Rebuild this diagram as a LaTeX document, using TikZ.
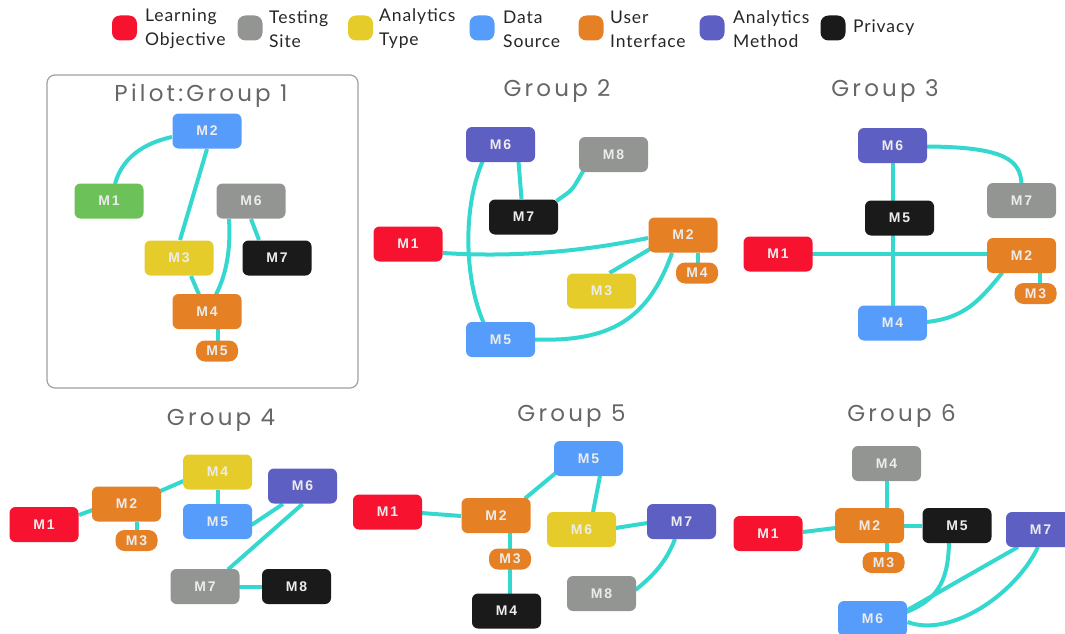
\documentclass[tikz,border=0pt]{standalone}
\usepackage{fontspec}
\setmainfont{Lato}
\newfontfamily\nodefont[LetterSpace=14]{Liberation Sans}
\newfontfamily\titlefont[LetterSpace=14]{Poppins}
\newfontfamily\legendfont[LetterSpace=5]{Lato}
\usetikzlibrary{backgrounds}
\definecolor{cred}{HTML}{F7132F}
\definecolor{cgray}{HTML}{939592}
\definecolor{cyellow}{HTML}{E6CC2A}
\definecolor{cblue}{HTML}{559CFB}
\definecolor{corange}{HTML}{E58024}
\definecolor{cpurple}{HTML}{5E5FC2}
\definecolor{cblack}{HTML}{1A1A1A}
\definecolor{cgreen}{HTML}{6CC158}
\definecolor{cteal}{HTML}{35D8CF}
\definecolor{ctext}{HTML}{ECECEC}
\definecolor{ctitle}{HTML}{666666}
\definecolor{cframe}{HTML}{A0A0A0}
\tikzset{
  box/.style={rectangle, rounded corners=6pt, minimum width=69pt, minimum height=35pt, inner sep=0pt, text=ctext, font=\nodefont\bfseries\fontsize{14}{14}\selectfont},
  sbox/.style={rectangle, rounded corners=9pt, minimum width=42pt, minimum height=21pt, inner sep=0pt, text=ctext, fill=corange, font=\nodefont\bfseries\fontsize{14}{14}\selectfont},
  link/.style={draw=cteal, line width=4pt},
  gtitle/.style={anchor=base, text=ctitle, font=\titlefont\fontsize{23}{23}\selectfont, inner sep=0pt},
  swatch/.style={rectangle, rounded corners=8pt, minimum width=25pt, minimum height=25pt, inner sep=0pt},
  legtext/.style={anchor=west, align=left, text=black!85, font=\legendfont\fontsize{17.5}{24}\selectfont, inner sep=0pt}
}
\begin{document}
\begin{tikzpicture}[x=1pt,y=-1pt]
\useasboundingbox (0,0) rectangle (1065,634);
\clip (0,0) rectangle (1065,634);
% legend
\node[swatch, fill=cred] (l1) at (124.5,28) {};
\node[legtext] (t1) at (145,29) {Learning\\Objective};
\node[swatch, fill=cgray] (l2) at (250,28) {};
\node[legtext] (t2) at (269,29) {Testing\\Site};
\node[swatch, fill=cyellow] (l3) at (360.5,28) {};
\node[legtext] (t3) at (379,29) {Analytics\\Type};
\node[swatch, fill=cblue] (l4) at (482,28) {};
\node[legtext] (t4) at (503,29) {Data\\Source};
\node[swatch, fill=corange] (l5) at (591,28) {};
\node[legtext] (t5) at (610,29) {User\\Interface};
\node[swatch, fill=cpurple] (l6) at (712,28) {};
\node[legtext] (t6) at (733,29) {Analytics\\Method};
\node[swatch, fill=cblack] (l7) at (833,28) {};
\node[legtext] (t7) at (853,28) {Privacy};

% titles
\node[gtitle] (h1) at (201,101.5) {Pilot:Group 1};
\node[gtitle] (h2) at (557,96.5) {Group 2};
\node[gtitle] (h3) at (885,96) {Group 3};
\node[gtitle] (h4) at (221,425) {Group 4};
\node[gtitle] (h5) at (571.5,421) {Group 5};
\node[gtitle] (h6) at (901.5,421) {Group 6};

% Group 1
\node[box, fill=cblue] (g1m2) at (207,131) {M2};
\node[box, fill=cgreen] (g1m1) at (109,201) {M1};
\node[box, fill=cgray] (g1m6) at (251,201) {M6};
\node[box, fill=cyellow] (g1m3) at (179,258) {M3};
\node[box, fill=cblack] (g1m7) at (277,258) {M7};
\node[box, fill=corange] (g1m4) at (207,311.5) {M4};
\node[sbox] (g1m5) at (217,351) {M5};

% Group 2
\node[box, fill=cpurple] (g2m6) at (500.5,144.5) {M6};
\node[box, fill=cgray] (g2m8) at (613.5,154.5) {M8};
\node[box, fill=cblack] (g2m7) at (523.5,217) {M7};
\node[box, fill=cred] (g2m1) at (408,244) {M1};
\node[box, fill=corange] (g2m2) at (683,235) {M2};
\node[sbox] (g2m4) at (697,273) {M4};
\node[box, fill=cyellow] (g2m3) at (601.5,291) {M3};
\node[box, fill=cblue] (g2m5) at (500.5,339.5) {M5};

% Group 3
\node[box, fill=cpurple] (g3m6) at (892.5,145.5) {M6};
\node[box, fill=cgray] (g3m7) at (1021.5,200.5) {M7};
\node[box, fill=cblack] (g3m5) at (899.5,218) {M5};
\node[box, fill=cred] (g3m1) at (778,254) {M1};
\node[box, fill=corange] (g3m2) at (1021.5,255.5) {M2};
\node[sbox] (g3m3) at (1035.5,293.5) {M3};
\node[box, fill=cblue] (g3m4) at (892.5,323) {M4};

% Group 4
\node[box, fill=cyellow] (g4m4) at (217.5,472) {M4};
\node[box, fill=cpurple] (g4m6) at (302.5,486) {M6};
\node[box, fill=corange] (g4m2) at (126.5,504) {M2};
\node[box, fill=cblue] (g4m5) at (217.5,521.5) {M5};
\node[box, fill=cred] (g4m1) at (44,524.5) {M1};
\node[sbox] (g4m3) at (136.5,540.5) {M3};
\node[box, fill=cgray] (g4m7) at (205,586.5) {M7};
\node[box, fill=cblack] (g4m8) at (296.5,586.5) {M8};

% Group 5
\node[box, fill=cblue] (g5m5) at (588.5,458.5) {M5};
\node[box, fill=cred] (g5m1) at (387.5,512) {M1};
\node[box, fill=corange] (g5m2) at (496,515.5) {M2};
\node[box, fill=cyellow] (g5m6) at (581.5,529.5) {M6};
\node[box, fill=cpurple] (g5m7) at (681.5,521.5) {M7};
\node[sbox] (g5m3) at (510,559) {M3};
\node[box, fill=cgray] (g5m8) at (601.5,593.5) {M8};
\node[box, fill=cblack] (g5m4) at (506.5,611) {M4};

% Group 6
\node[box, fill=cgray] (g6m4) at (886.5,463.5) {M4};
\node[box, fill=cred] (g6m1) at (768,533.5) {M1};
\node[box, fill=corange] (g6m2) at (869.5,525.5) {M2};
\node[box, fill=cblack] (g6m5) at (957,525.5) {M5};
\node[box, fill=cpurple] (g6m7) at (1040.5,529.5) {M7};
\node[sbox] (g6m3) at (883.5,562.5) {M3};
\node[box, fill=cblue] (g6m6) at (872.5,618.5) {M6};

\begin{pgfonlayer}{background}
\draw[cframe, line width=1.2pt, rounded corners=8pt] (47,75) rectangle (358,388);
% Group 1 links
\draw[link] ([shift={(-35,6)}]g1m2.center) .. controls (135,145) and (120,165) .. ([shift={(6,-17)}]g1m1.center);
\draw[link] ([shift={(0,18)}]g1m2.center) -- ([shift={(1,-18)}]g1m3.center);
\draw[link] ([shift={(12,18)}]g1m3.center) -- ([shift={(-8,-17)}]g1m4.center);
\draw[link] ([shift={(-22,18)}]g1m6.center) .. controls (231,250) and (226,275) .. ([shift={(9,-17)}]g1m4.center);
\draw[link] ([shift={(0,18)}]g1m6.center) -- ([shift={(-18,-18)}]g1m7.center);
\draw[link] ([shift={(11,17)}]g1m4.center) -- ([shift={(1,-10)}]g1m5.center);
% Group 2 links
\draw[link] ([shift={(18,17)}]g2m6.center) -- ([shift={(-2,-18)}]g2m7.center);
\draw[link] ([shift={(-18,17)}]g2m6.center) .. controls (462,210) and (465,280) .. ([shift={(-17,-17)}]g2m5.center);
\draw[link, rounded corners=6pt] ([shift={(-30,16)}]g2m8.center) -- (572,190) -- ([shift={(33,-16)}]g2m7.center);
\draw[link] ([shift={(35,9)}]g2m1.center) .. controls (520,258) and (590,250) .. ([shift={(-35,3)}]g2m2.center);
\draw[link] ([shift={(-33,14)}]g2m2.center) -- ([shift={(8,-18)}]g2m3.center);
\draw[link] ([shift={(-11,18)}]g2m2.center) .. controls (648,320) and (610,342) .. ([shift={(34,0)}]g2m5.center);
\draw[link] ([shift={(15,18)}]g2m2.center) -- ([shift={(1,-10)}]g2m4.center);
% Group 3 links
\draw[link] (g3m6.center) -- (g3m4.center);
\draw[link] ([shift={(0,0.3)}]g3m1.center) -- ([shift={(0,-1.2)}]g3m2.center);
\draw[link] ([shift={(34,1)}]g3m6.center) .. controls (1005,147) and (1020,160) .. ([shift={(0,-17)}]g3m7.center);
\draw[link] ([shift={(-19,17)}]g3m2.center) .. controls (980,300) and (965,318) .. ([shift={(34,-1)}]g3m4.center);
\draw[link] ([shift={(18.5,17)}]g3m2.center) -- ([shift={(4.5,-10)}]g3m3.center);
% Group 4 links
\draw[link] ([shift={(35,-9.5)}]g4m1.center) -- ([shift={(-34,6)}]g4m2.center);
\draw[link] ([shift={(34,-13)}]g4m2.center) -- ([shift={(-34,9)}]g4m4.center);
\draw[link] ([shift={(10,18)}]g4m2.center) -- ([shift={(0,-10)}]g4m3.center);
\draw[link] ([shift={(0,18)}]g4m4.center) -- ([shift={(0,-17)}]g4m5.center);
\draw[link] ([shift={(34,3.5)}]g4m5.center) -- ([shift={(-19.5,18)}]g4m6.center);
\draw[link] ([shift={(0,18)}]g4m6.center) -- ([shift={(23,-17)}]g4m7.center);
\draw[link] ([shift={(34,0.5)}]g4m7.center) -- ([shift={(-34,0.5)}]g4m8.center);
% Group 5 links
\draw[link] ([shift={(34,1)}]g5m1.center) -- ([shift={(-35,0.5)}]g5m2.center);
\draw[link] ([shift={(29,-17)}]g5m2.center) -- ([shift={(-31,13)}]g5m5.center);
\draw[link] ([shift={(11.5,17.5)}]g5m5.center) -- ([shift={(11.5,-17.5)}]g5m6.center);
\draw[link] ([shift={(34,-1.5)}]g5m6.center) -- ([shift={(-34,1.5)}]g5m7.center);
\draw[link] ([shift={(-6.5,17.5)}]g5m7.center) .. controls (665,565) and (650,578) .. ([shift={(34,-3.5)}]g5m8.center);
\draw[link] ([shift={(14,17)}]g5m2.center) -- ([shift={(0,-10)}]g5m3.center);
\draw[link] ([shift={(0,10)}]g5m3.center) -- ([shift={(3.5,-17.5)}]g5m4.center);
% Group 6 links
\draw[link] ([shift={(0.5,17)}]g6m4.center) -- ([shift={(17.5,-17)}]g6m2.center);
\draw[link] ([shift={(35,-1.5)}]g6m1.center) -- ([shift={(-34,2.5)}]g6m2.center);
\draw[link] ([shift={(34,0)}]g6m2.center) -- ([shift={(-35,0)}]g6m5.center);
\draw[link] ([shift={(17.5,17)}]g6m2.center) -- ([shift={(3.5,-10)}]g6m3.center);
\draw[link] ([shift={(-8,17.5)}]g6m5.center) .. controls (948,585) and (935,600) .. ([shift={(34,-6.5)}]g6m6.center);
\draw[link] ([shift={(-22.5,17.5)}]g6m7.center) -- ([shift={(35,-8.5)}]g6m6.center);
\draw[link] ([shift={(-2.5,17.5)}]g6m7.center) .. controls (1015,595) and (950,638) .. ([shift={(35,3.5)}]g6m6.center);
\end{pgfonlayer}
\end{tikzpicture}
\end{document}
